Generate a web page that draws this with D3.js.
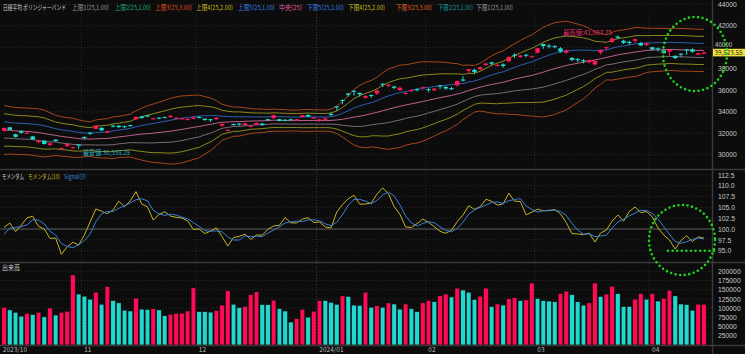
<!DOCTYPE html>
<html><head><meta charset="utf-8">
<script src="https://cdn.jsdelivr.net/npm/d3@7"></script>
<style>
body{margin:0;background:#0c0c0c;}
svg{display:block;font-family:"Noto Sans CJK JP","Noto Sans",sans-serif;}
</style></head>
<body><svg id="chart" width="745" height="354"></svg>
<script>
// ---- data ----
const monthLabels = ["2023/10","11","12","2024/01","02","03","04"];
const monthStart  = [0,14,34,55,74,93,113];
const priorCloses = [33241,32991,32606,32467,32776,32706,33168,33533,33242,33023,32571,32402,32678,32315,32371,31872,31857,31759,31237,30526,31075,30994,31746,31936];
const opens  = [32230,32550,31900,32200,31960,31700,31150,31300,30900,31400,30550,30800,30600,30950,31650,32050,32400,32500,32050,32700,32700,32650,32750,33300,33550,33650,33300,33450,33500,33500,33350,33300,33250,33350,33500,33350,33300,33300,32700,32250,32850,32900,32750,32600,32800,32900,33300,33400,33300,33250,33300,33200,33500,33700,33350,33200,33250,33800,34500,35100,35700,35950,35750,35300,35550,35700,36600,36400,36350,36000,35700,36000,36100,36200,36100,36000,36450,36300,36200,36450,37000,37800,37900,37950,38350,38600,38300,38400,38700,39300,39100,39300,39100,39500,40300,40150,40100,39900,39500,39000,38900,38800,38600,38400,39500,40000,40500,41000,40600,40500,40600,40400,40200,40000,39900,39700,39600,39200,39400,39800,39800,39300,39400];
const highs  = [32530,32600,31950,32260,32150,31750,31400,31350,31150,31450,30700,31050,30750,31000,31700,32100,32750,32550,32250,32800,32760,32700,32800,33550,33600,33700,33450,33500,33550,33700,33500,33450,33400,33500,33600,33400,33350,33500,32900,32400,32900,32950,32950,32750,33000,32950,33350,33750,33350,33300,33350,33350,33700,33750,33500,33350,33450,33900,34550,35150,35750,36000,35800,35500,35600,36050,36650,36550,36400,36350,35850,36100,36200,36350,36200,36200,36500,36400,36300,36900,37300,37950,38000,38200,38550,38650,38450,38500,39150,39450,39300,39400,39250,39950,40350,40300,40200,40000,39800,39100,39000,38900,38850,38850,39800,40100,40900,41088,40700,40600,40800,40500,40450,40050,40000,39800,39800,39250,39450,39850,39900,39500,39600];
const lows   = [32150,32280,31600,31950,31900,31380,31100,30950,30780,31200,30550,30700,30550,30538,31400,31850,32380,32200,32000,32550,32480,32500,32600,33280,33350,33500,33250,33300,33400,33450,33300,33250,33200,33300,33400,33150,33050,33250,32600,32200,32700,32700,32700,32550,32750,32700,33150,33350,33100,33100,33200,33150,33450,33500,33300,33050,33200,33600,34100,34700,35400,35500,35400,35200,35300,35550,36300,36300,36100,35950,35600,35800,35900,36050,35800,35900,36100,36050,36000,36350,36800,37600,37500,37850,38250,38300,38200,38100,38600,39000,39000,39050,39000,39400,39850,39900,39900,39500,39400,38700,38600,38500,38500,38300,39300,39700,40400,40750,40300,40200,40400,40100,40100,39700,39600,39400,39200,38900,39100,39300,39500,39300,39350];
const closes = [32494,32315,31659,32040,32042,31430,31259,30999,31062,31269,30601,30991,30696,30858,31601,31950,32708,32272,32166,32646,32568,32585,32695,33519,33424,33585,33388,33354,33451,33625,33447,33408,33321,33486,33431,33231,33231,33445,32858,32307,32791,32843,32926,32686,32970,32758,33219,33675,33141,33169,33254,33305,33681,33539,33464,33288,33377,33763,34441,35049,35577,35901,35619,35477,35466,35963,36546,36517,36226,36236,35751,36026,36065,36287,36011,36158,36354,36160,36119,36863,36897,37963,37703,38157,38487,38470,38363,38262,39098,39233,39239,39208,39166,39910,40109,40097,40090,39598,39688,38820,38797,38695,38807,38707,39740,40003,40815,40888,40414,40398,40762,40168,40369,39803,39838,39451,39773,38992,39347,39773,39581,39442,39523];
const volumes = [102,95,88,78,85,82,88,76,100,81,88,91,190,138,132,124,143,110,158,120,114,94,92,127,97,96,98,95,79,83,85,86,92,155,90,90,89,93,108,147,110,101,104,136,144,109,109,121,98,92,62,71,96,75,91,120,120,115,110,133,131,108,107,143,102,106,102,114,111,97,111,98,90,114,120,117,133,138,130,154,149,143,123,132,154,104,111,108,125,128,120,122,168,126,120,119,117,139,146,136,117,108,114,168,131,138,159,139,104,104,124,139,124,139,119,126,148,133,111,109,94,110,110].map(v=>v*1000);
const volUp = "RCCCRCRCRCRRRCCCRCRCCCCRCCRCCRRRRRCCCRRRCCRRRCCRCCCRRCRRCCCRCCCRCRCRCCRCCRRCRRCRCCCRRCRCRRCRRCCCCRRCCCRRCRRCCCRRCRCRRCCCCRR".split("").map(c=>c==="R");
const priceTicks = [30000,32000,34000,36000,38000,40000,42000,44000];
const momTicks = [95,97.5,100,102.5,105,107.5,110,112.5];
const volTicks = [25000,50000,75000,100000,125000,150000,175000,200000];
const lastPrice = "39,523.55";
const highNote = "最高値:41,087.75", lowNote = "最安値:30,538.29";
const legendItems = ["日経平均 ボリンジャーバンド","上限1(25,1.00)","上限2(25,1.00)","上限3(25,3.00)","上限4(25,2.00)","上限5(25,1.00)","中央(25)","下限5(25,1.00)","下限4(25,2.00)","下限3(25,3.00)","下限2(25,1.00)","下限1(25,1.00)"];
const momTitles = ["モメンタム","モメンタム(10)","Signal(3)"];

// ---- layout ----
const svg = d3.select("#chart");
const W=745, H=354, plotR=712;
const n = closes.length;
const x = d3.scaleBand().domain(d3.range(n)).range([1.84, 1.84+n*5.726]).paddingInner(0.22);
const cx = i => x(i)+x.bandwidth()/2;
const yP = d3.scaleLinear().domain([30000,44000]).range([154.7,4.3]);
const yM = d3.scaleLinear().domain([95,110]).range([250.7,185.7]);
const yV = d3.scaleLinear().domain([0,200000]).range([344.9,271.3]);

const UP="#ff1758", DN="#1fdcd2";
svg.append("rect").attr("width",W).attr("height",H).attr("fill","#0c0c0c");

// text fitted to a measured width (horizontal scale only)
function fitText(t, xx, yy, w, color, size){
  const el = svg.append("text").attr("font-size",size).attr("fill",color).text(t);
  const nat = el.node().getComputedTextLength();
  el.attr("transform",`translate(${xx},${yy}) scale(${w/nat},1)`);
  return el;
}

// panel separators
const g = svg.append("g");
[169.5,262.5,345.5].forEach(yy=>{
  g.append("line").attr("x1",0).attr("x2",W).attr("y1",yy).attr("y2",yy).attr("stroke","#3a3a3a").attr("stroke-width",1.4);
});
g.append("line").attr("x1",plotR+0.5).attr("x2",plotR+0.5).attr("y1",0).attr("y2",H).attr("stroke","#3a3a3a").attr("stroke-width",1.4);

// grid
const grid = svg.append("g").attr("stroke","#2a2a2a").attr("stroke-dasharray","1,2");
priceTicks.forEach(t=>grid.append("line").attr("x1",0).attr("x2",plotR).attr("y1",yP(t)).attr("y2",yP(t)));
momTicks.forEach(t=>{ if(t!==100) grid.append("line").attr("x1",0).attr("x2",plotR).attr("y1",yM(t)).attr("y2",yM(t));});
volTicks.forEach(t=>grid.append("line").attr("x1",0).attr("x2",plotR).attr("y1",yV(t)).attr("y2",yV(t)));
monthStart.forEach((m,k)=>{ if(k===0) return;
  const xx = x(m)-0.7;
  grid.append("line").attr("x1",xx).attr("x2",xx).attr("y1",14).attr("y2",345)
    .attr("stroke",k===3?"#444":"#2a2a2a").attr("stroke-dasharray",k===3?null:"1,2");
});
svg.append("line").attr("x1",0).attr("x2",plotR).attr("y1",yM(100)).attr("y2",yM(100)).attr("stroke","#777").attr("stroke-width",0.8);

// Bollinger bands (25-day, from the closes)
const all = priorCloses.concat(closes);
const P = priorCloses.length;
const bands = closes.map((c,i)=>{
  const w = all.slice(P+i-24, P+i+1);
  const m = d3.mean(w), s = Math.sqrt(d3.mean(w.map(v=>(v-m)*(v-m))));
  return {i, m, s};
});
const bandDefs = [
  {k:3, c:"#a8461c"},{k:-3,c:"#a8461c"},
  {k:2, c:"#8c8a1c"},{k:-2,c:"#8c8a1c"},
  {k:1, c:"#2c5fb4"},{k:-1,c:"#7a6a78"},
  {k:0, c:"#c0608e"}
];
const line = d3.line().x(d=>cx(d.i));
bandDefs.forEach(b=>{
  svg.append("path").datum(bands).attr("fill","none").attr("stroke",b.c).attr("stroke-width",1)
    .attr("d", line.y(d=>yP(d.m+b.k*d.s)));
});

// candles
const cg = svg.append("g");
closes.forEach((c,i)=>{
  const up = c>=opens[i], col = up?UP:DN;
  cg.append("line").attr("x1",cx(i)).attr("x2",cx(i)).attr("y1",yP(highs[i])).attr("y2",yP(lows[i])).attr("stroke",col).attr("stroke-width",1);
  const y1=yP(Math.max(c,opens[i])), y2=yP(Math.min(c,opens[i]));
  cg.append("rect").attr("x",x(i)).attr("width",x.bandwidth()).attr("y",y1).attr("height",Math.max(1,y2-y1)).attr("fill",col);
});

// momentum (10) and 3-day signal
const mom = closes.map((c,i)=>({i, v: c/all[P+i-10]*100}));
const momAll = all.map((c,j)=> j>=10 ? c/all[j-10]*100 : null);
const sig = closes.map((c,i)=>({i, v: d3.mean(momAll.slice(P+i-2,P+i+1))}));
svg.append("path").datum(mom).attr("fill","none").attr("stroke","#c8b424").attr("stroke-width",1).attr("d",line.y(d=>yM(d.v)));
svg.append("path").datum(sig).attr("fill","none").attr("stroke","#3a80d8").attr("stroke-width",1).attr("d",line.y(d=>yM(d.v)));

// volume
svg.append("g").selectAll("rect").data(volumes).join("rect")
  .attr("x",(d,i)=>x(i)).attr("width",x.bandwidth()).attr("y",d=>yV(d)).attr("height",d=>yV(0)-yV(d))
  .attr("fill",(d,i)=>volUp[i]?"#ff0a55":"#1fd8cf").attr("stroke","#111").attr("stroke-width",0.4);

// axes
const axStyle = sel=>{ sel.select(".domain").remove(); sel.selectAll("text").attr("fill","#c8c8c8").attr("font-size",6.8); sel.selectAll("line").remove(); };
svg.append("g").attr("transform",`translate(${plotR+3},0)`).call(d3.axisRight(yP).tickValues(priceTicks.filter(t=>t!==40000)).tickFormat(d3.format("d")).tickSize(0)).call(axStyle);
svg.append("g").attr("transform",`translate(${plotR+3},0)`).call(d3.axisRight(yM).tickValues(momTicks).tickFormat(d3.format(".1f")).tickSize(0)).call(axStyle);
svg.append("g").attr("transform",`translate(${plotR+3},0)`).call(d3.axisRight(yV).tickValues(volTicks).tickFormat(d3.format("d")).tickSize(0)).call(axStyle);

// x labels
monthStart.forEach((m,k)=>{
  svg.append("text").attr("x",x(m)+(k===0?1:2)).attr("y",352).attr("fill","#bbb").attr("font-size",6.5).text(monthLabels[k]);
});

// current price tag; the 40000 label sits just above it, as in the reference
const ty = yP(39523.55);
svg.append("text").attr("x",plotR+3).attr("y",ty-5.4).attr("fill","#c8c8c8").attr("font-size",6.2).text(d3.format("d")(40000));
svg.append("rect").attr("x",plotR+1).attr("y",ty-3.6).attr("width",32).attr("height",7.6).attr("fill","#f2e23c");
fitText(lastPrice, plotR+2.5, ty+2.3, 28, "#222", 6.2);

// legend
const legX = [3,72,115,155,196,238,279,307,348,396,438,476];
const legW = [63,37,36,37,37,37,23,37,37,36,35,37];
const legC = ["#d0d0d0","#9a9a9a","#1fae74","#e0501e","#c8be1e","#3a7ee0","#e0609e","#3a7ee0","#c8be1e","#e0601e","#1a9a9a","#9a9a9a"];
legendItems.forEach((t,k)=>fitText(t, legX[k], 10, legW[k], legC[k], 6.6));
[[2,22,"#d0d0d0"],[28,32,"#c8b424"],[64,22,"#3a80d8"]].forEach(([xx,w,c],k)=>fitText(momTitles[k], xx, 179, w, c, 6.6));
fitText("出来高", 2, 270, 18, "#d0d0d0", 6.6);

// high / low notes
fitText(highNote, 563, 35, 49, "#e0306a", 6.6);
fitText(lowNote, 83, 155, 47, "#2ab4c4", 6.6);

// green dotted annotations
const dot = {fill:"none",stroke:"#1ed21e","stroke-width":2.6,"stroke-dasharray":"0,4.6","stroke-linecap":"round"};
const e1 = svg.append("ellipse").attr("cx",695).attr("cy",54).attr("rx",32).attr("ry",37);
const e2 = svg.append("ellipse").attr("cx",682).attr("cy",240).attr("rx",33).attr("ry",35);
const l1 = svg.append("line").attr("x1",668).attr("x2",714).attr("y1",yM(95)).attr("y2",yM(95));
[e1,e2,l1].forEach(s=>Object.entries(dot).forEach(([k,v])=>s.attr(k,v)));
</script></body></html>
